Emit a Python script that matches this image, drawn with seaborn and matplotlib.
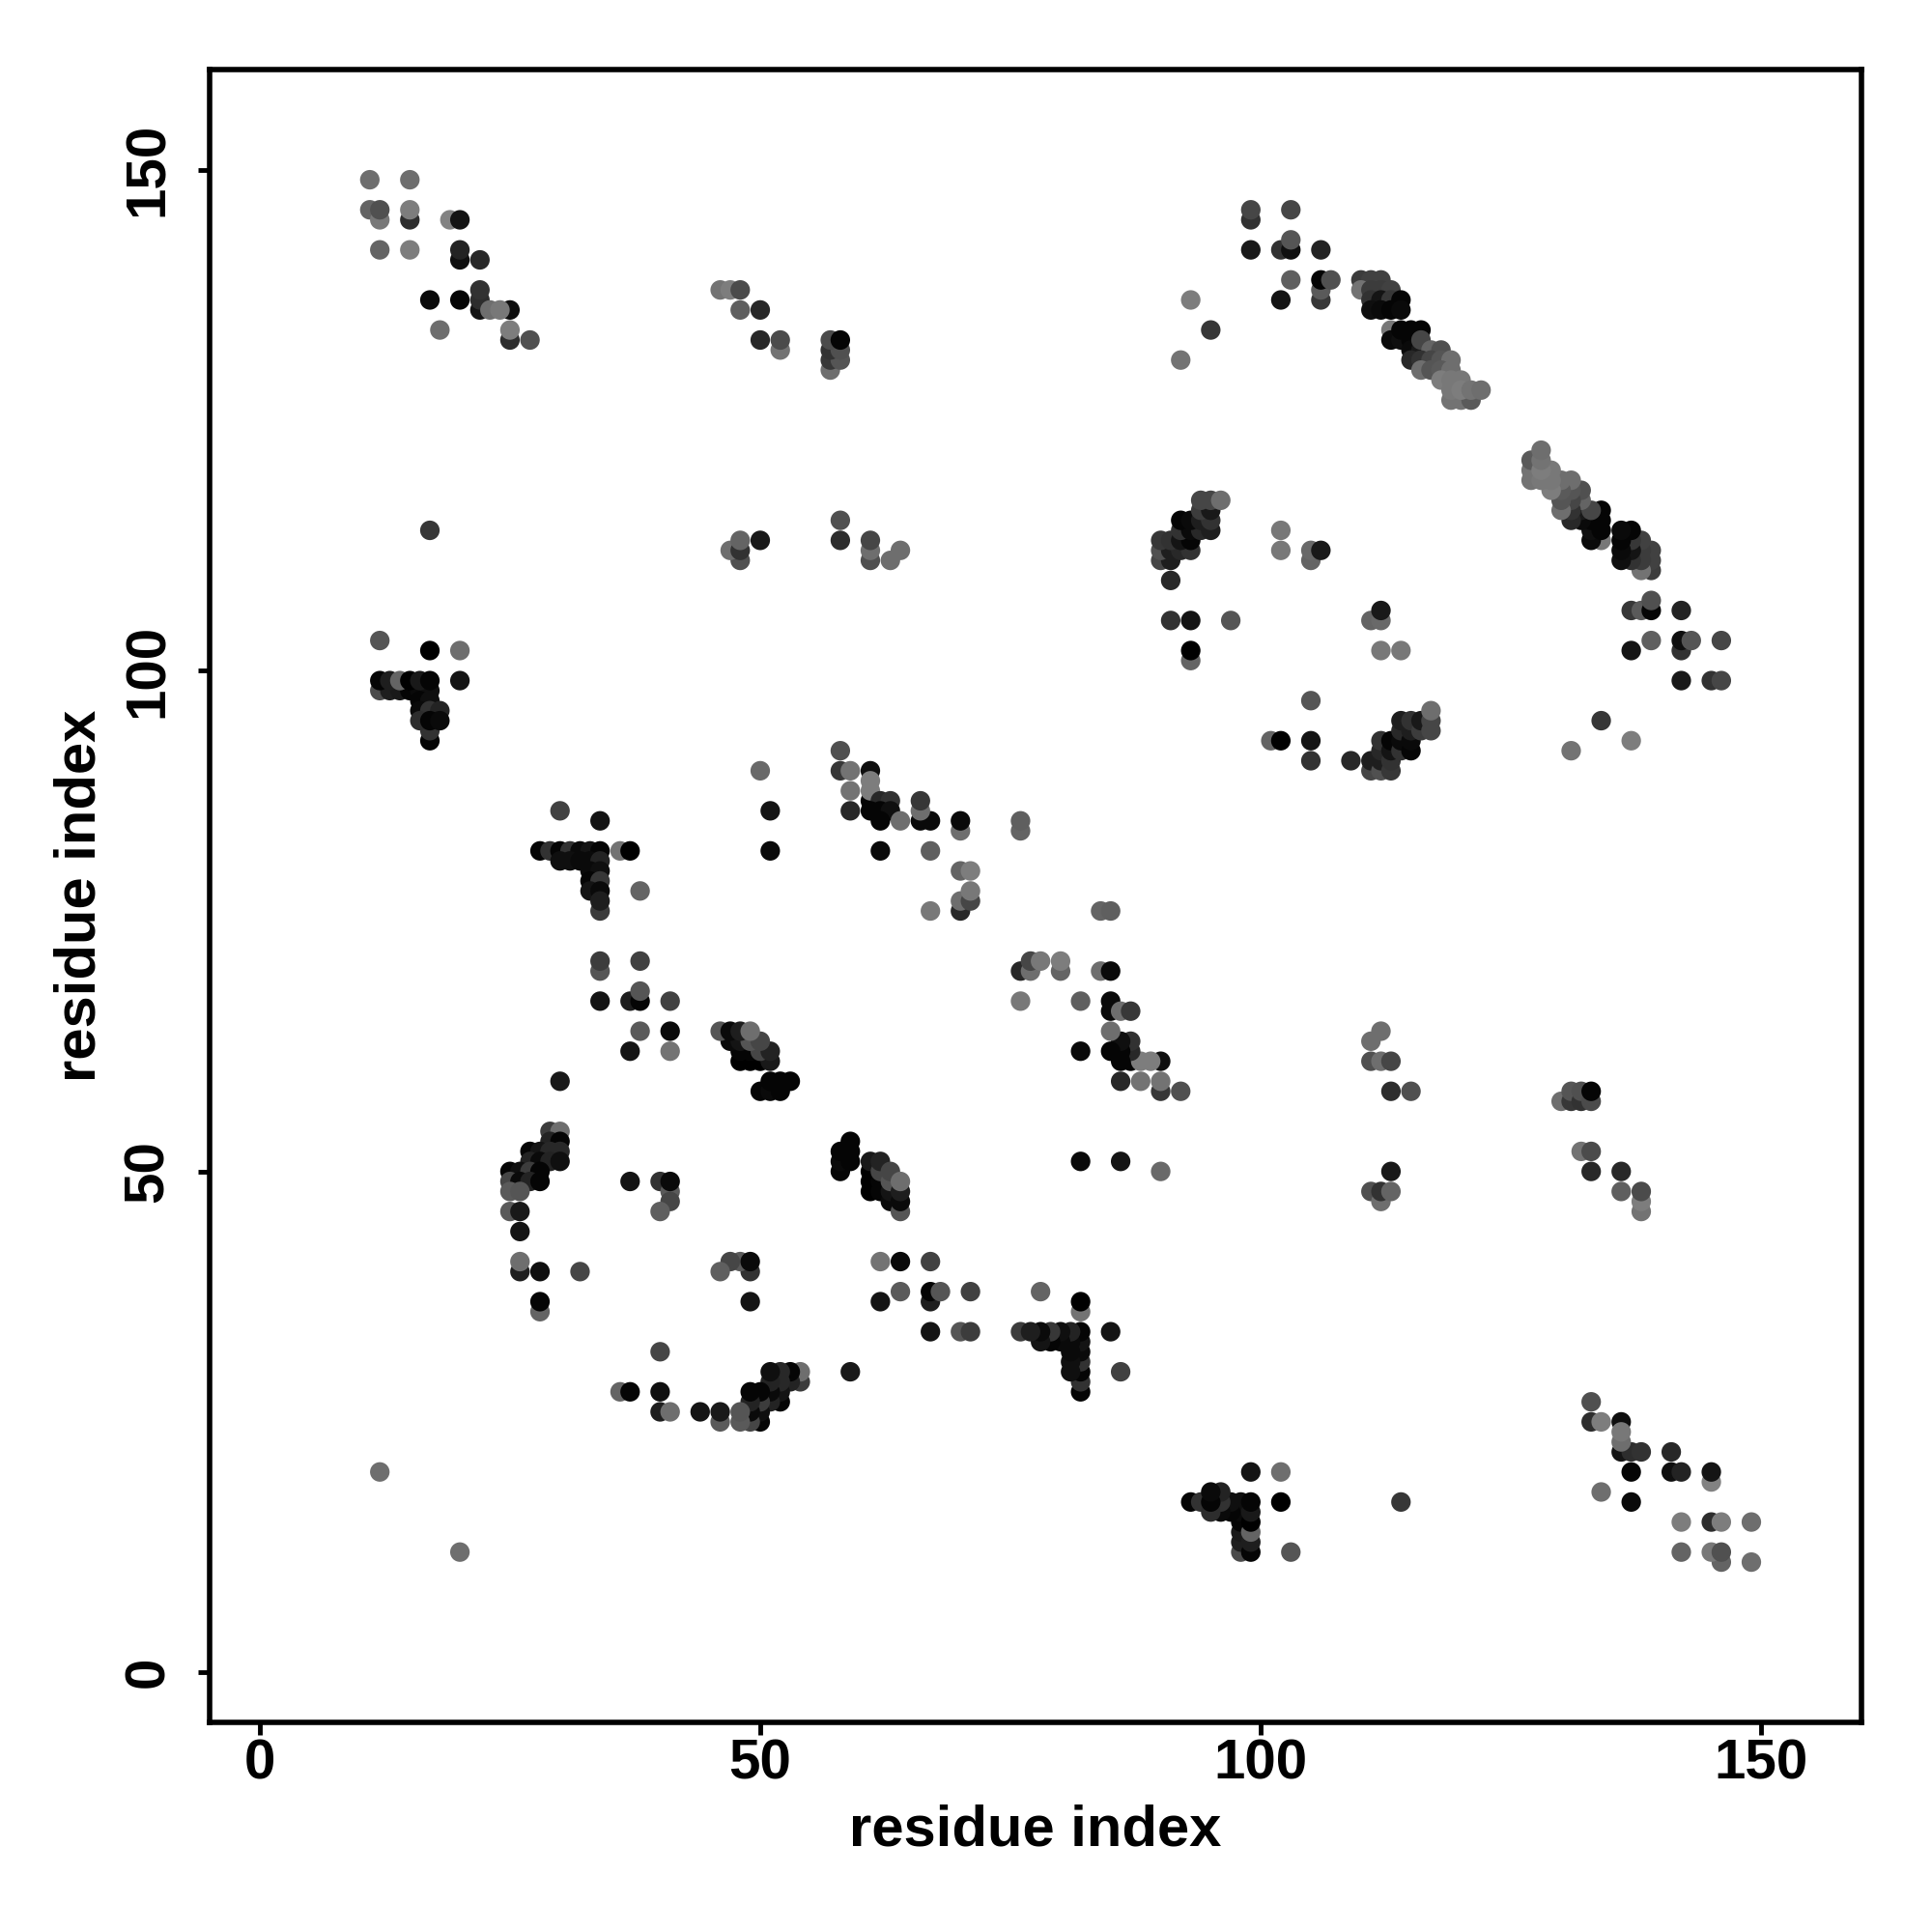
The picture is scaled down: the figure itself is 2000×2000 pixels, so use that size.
import matplotlib
matplotlib.use("Agg")
import matplotlib.pyplot as plt
import pandas as pd
import seaborn as sns

# contacts: (residue i, residue j, grey level); the map is symmetric, so only i < j is listed
block_top_left = [
    (11,149,110),(15,149,110),(11,146,100),(15,145,45),(12,145,120),(12,146,80),(15,146,125),
    (19,145,130),(20,145,20),(12,142,100),(15,142,125),(20,141,15),(20,142,35),(22,141,40),
    (22,136,20),(22,137,45),(22,138,50),(17,137,10),(20,137,5),(25,136,15),(23,136,110),(24,136,120),
    (25,133,45),(25,134,125),(18,134,110),(27,133,80),
]
block_left_99 = [
    (17,114,55),(12,103,85),(17,102,0),(20,102,110),(20,99,20),
    (12,98,75),(13,98,30),(14,98,25),(15,98,5),(16,98,10),(17,98,15),
    (12,99,5),(13,99,30),(14,99,100),(15,99,0),(16,99,25),(17,99,5),
    (16,97,5),(17,97,15),(16,96,10),(17,96,50),(18,96,35),
    (17,93,5),(17,94,50),(16,95,45),(17,95,5),(18,95,10),
]
block_mid_top = [
    (46,138,115),(47,138,125),(48,138,75),(48,136,95),(50,136,40),
    (52,132,115),(50,133,40),(52,133,75),
    (57,130,110),(57,131,55),(58,131,85),(57,132,50),(58,132,80),(57,133,75),(58,133,5),
    (58,115,80),(58,113,45),(61,111,80),(61,112,110),(61,113,70),(63,111,110),(64,112,110),
    (48,111,80),(47,112,110),(48,112,50),(48,113,100),(50,113,25),
]
block_upper_band = [
    (99,145,50),(99,146,70),(103,146,70),(99,142,25),(102,142,50),(103,142,15),(103,143,85),(106,142,35),
    (106,137,55),(106,138,90),(106,139,5),(107,139,80),(103,139,95),(102,137,20),
    (93,137,125),(95,134,55),(92,131,115),
    (110,139,60),(111,139,65),(112,139,65),(110,138,115),
    (111,138,60),(112,138,60),(113,138,65),
    (111,137,50),(112,137,20),(113,137,55),(114,137,5),
    (111,136,15),(112,136,10),(113,136,5),(114,136,10),
    (113,134,120),(113,133,10),(114,133,15),(115,133,5),(114,134,5),(115,134,5),(116,134,5),
    (115,132,10),(116,132,25),(116,133,70),(117,132,100),(118,132,80),
    (115,131,40),(116,131,50),(117,131,70),(118,131,85),(119,131,110),
    (116,130,110),(117,130,85),(118,130,90),(119,130,110),
    (118,129,125),(119,129,120),(120,129,120),
    (119,127,115),(120,127,115),(121,127,90),(119,128,120),(120,128,125),(121,128,115),(122,128,110),
]
block_helix_94 = [
    (91,109,40),(91,105,50),(93,105,20),(97,105,85),(93,101,100),(93,102,0),
    (90,111,70),(91,111,30),(90,112,80),(91,112,30),(92,112,40),(93,112,50),
    (90,113,55),(91,113,50),(92,113,20),(93,113,5),(92,114,50),(93,114,10),(94,114,40),(95,114,30),
    (92,115,5),(93,115,10),(94,115,30),(95,115,50),(94,116,60),(95,116,25),
    (94,117,70),(95,117,70),(96,117,110),
    (102,114,120),(102,112,120),(105,111,100),(105,112,105),(106,112,25),
]
block_strand_82 = [
    (30,86,65),(34,85,20),
    (28,82,5),(29,82,50),(30,82,5),(31,82,50),(32,82,10),(33,82,20),(34,82,5),(36,82,115),(37,82,0),
    (30,81,15),(31,81,15),(32,81,10),(33,81,10),(34,81,35),(33,80,10),(34,80,15),(33,79,5),(34,79,55),
    (33,78,20),(34,78,10),(38,78,100),(34,76,60),(34,77,30),
]
block_mid_85 = [
    (50,90,105),(51,86,20),(51,82,10),
    (58,92,80),(58,90,55),(59,90,115),(61,90,15),(61,87,5),(61,88,125),(61,89,125),(59,88,115),
    (62,87,40),(63,87,50),(59,86,40),(61,86,5),(62,86,5),(63,86,15),(62,85,5),(64,85,110),
    (66,85,10),(67,85,10),(66,86,110),(66,87,55),(70,84,110),(70,85,10),(76,84,100),(76,85,95),
    (62,82,10),(67,82,95),(70,80,100),(71,80,125),(70,76,40),(70,77,110),(71,77,70),(71,78,120),(67,76,120),
]
block_mid_64 = [
    (34,70,85),(34,71,60),(38,71,65),(37,67,30),(38,67,5),(38,68,85),(41,67,65),(34,67,20),
    (38,64,90),(41,64,10),(37,62,20),(41,62,115),(30,59,25),
    (48,61,0),(49,61,0),(50,61,0),(51,61,25),(48,62,5),(49,62,5),(50,62,70),(51,62,35),
    (47,63,10),(48,63,20),(49,63,85),(50,63,70),(46,64,85),(47,64,10),(48,64,30),(49,64,110),
    (50,58,5),(51,58,10),(52,58,5),(51,59,5),(52,59,5),(53,59,5),
]
block_low_50 = [
    (12,20,110),(29,54,60),(30,54,110),(29,53,35),(30,53,5),
    (27,52,5),(28,52,20),(29,52,40),(30,52,40),(27,51,35),(28,51,10),(29,51,35),(30,51,15),
    (25,50,5),(26,50,15),(27,50,60),(28,50,5),(25,49,70),(26,49,10),(27,49,35),(28,49,5),
    (25,48,90),(26,48,85),(25,46,90),(26,46,25),(26,44,20),(26,40,30),(26,41,110),(28,40,15),(32,40,70),
    (28,36,100),(28,37,5),(37,49,20),(40,49,50),(41,48,90),(41,47,70),(40,46,95),(41,49,10),
]
blocks = [block_top_left, block_left_99, block_mid_top, block_upper_band, block_helix_94,
          block_strand_82, block_mid_85, block_mid_64, block_low_50]
residue_ticks = [0, 50, 100, 150]

rows = [c for b in blocks for c in b]
df = pd.DataFrame(rows, columns=["i", "j", "grey"])
full = pd.concat([df.rename(columns={"i": "x", "j": "y"}),
                  df.rename(columns={"j": "x", "i": "y"})], ignore_index=True)

sns.set_theme(style="white")
plt.rcParams["font.family"] = ["Liberation Sans", "DejaVu Sans"]
plt.rcParams["font.weight"] = "bold"

fig = plt.figure(figsize=(20, 20), dpi=100)
ax = fig.add_axes([217/2000, 1-1783/2000, 1710/2000, 1711/2000])
sns.scatterplot(data=full, x="x", y="y", hue="grey", palette="gray", hue_norm=(0, 255),
                s=212, linewidth=0, legend=False, ax=ax)
ax.set_xlim(-5, 160)
ax.set_ylim(-5, 160)
ax.set_xticks(residue_ticks)
ax.set_yticks(residue_ticks)
ax.tick_params(axis="both", length=9, width=3.5, color="black", labelcolor="black",
               labelsize=42, left=True, bottom=True)
ax.tick_params(axis="x", pad=3)
ax.tick_params(axis="y", pad=17)
for t in ax.get_yticklabels():
    t.set_rotation(90)
    t.set_va("center")
for s in ax.spines.values():
    s.set_visible(True)
    s.set_linewidth(4)
    s.set_color("black")
ax.set_xlabel("residue index", fontsize=43, fontweight="bold", color="black", labelpad=10)
ax.set_ylabel("residue index", fontsize=43, fontweight="bold", color="black", labelpad=12)
fig.savefig("out.png", dpi=100, facecolor="white")
